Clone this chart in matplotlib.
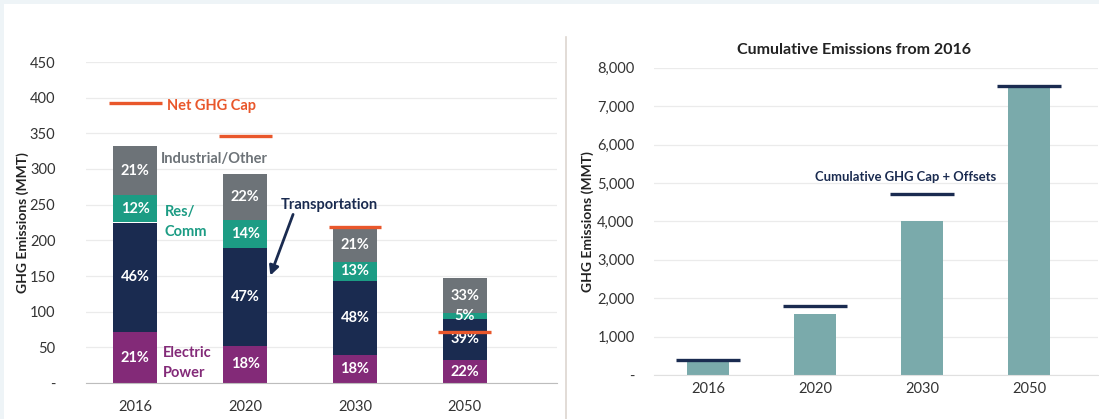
import matplotlib.pyplot as plt
import matplotlib.patches as patches
from matplotlib.ticker import FuncFormatter

plt.rcParams['font.family'] = ['Lato', 'DejaVu Sans']

years = ['2016', '2020', '2030', '2050']

# annual emissions by sector (MMT)
electric = [71, 52, 39, 32]
transport = [154, 137, 104, 58]
res_comm = [38, 40, 27, 8]
industrial = [69, 64, 47, 49]

electric_pct = ['21%', '18%', '18%', '22%']
transport_pct = ['46%', '47%', '48%', '39%']
res_comm_pct = ['12%', '14%', '13%', '5%']
industrial_pct = ['21%', '22%', '21%', '33%']

net_cap = [393, 346, 218, 71]

# cumulative emissions from 2016
cumulative = [350, 1590, 4020, 7530]
cum_cap = [395, 1805, 4715, 7535]

c_elec = '#832a78'
c_trans = '#1a2b50'
c_res = '#1c9c84'
c_ind = '#6d7378'
c_cap = '#e9572b'
c_cum = '#7aaaab'
c_grid = '#ebebeb'
c_tick = '#333333'

fig = plt.figure(figsize=(10.99, 4.19), dpi=100)
fig.patch.set_facecolor('white')
# light frame strips on the top and left
fig.add_artist(patches.Rectangle((0, 1 - 4 / 419), 1, 4 / 419, transform=fig.transFigure,
                                 facecolor='#eef4f7', edgecolor='none', zorder=-5))
fig.add_artist(patches.Rectangle((0, 0), 4 / 1099, 1, transform=fig.transFigure,
                                 facecolor='#eef4f7', edgecolor='none', zorder=-5))
fig.add_artist(plt.Line2D([566 / 1099, 566 / 1099], [0, 1 - 37 / 419], transform=fig.transFigure,
                          color='#ddd6cf', lw=1.2))

x = list(range(len(years)))

# ---- left: annual stacked
ax1 = fig.add_axes([86 / 1099, 36 / 419, 471 / 1099, 321 / 419])
ax1.set_facecolor('none')
stacks = [(electric, electric_pct, c_elec), (transport, transport_pct, c_trans),
          (res_comm, res_comm_pct, c_res), (industrial, industrial_pct, c_ind)]
bottom = [0] * len(years)
for vals, pcts, col in stacks:
    ax1.bar(x, vals, 0.4, bottom=bottom, color=col, zorder=2)
    for i in x:
        ax1.text(i, bottom[i] + vals[i] / 2, pcts[i], ha='center', va='center',
                 color='white', fontsize=10.5, fontweight='bold', zorder=3)
    bottom = [b + v for b, v in zip(bottom, vals)]

for i in x:
    ax1.plot([i - 0.24, i + 0.24], [net_cap[i], net_cap[i]], color=c_cap, lw=2.4, zorder=4,
             solid_capstyle='butt')

ax1.text(0.29, 388, 'Net GHG Cap', color=c_cap, fontsize=10.5, fontweight='bold', va='center')
ax1.text(0.235, 314, 'Industrial/Other', color=c_ind, fontsize=10.5, fontweight='bold', va='center')
ax1.text(0.265, 226, 'Res/\nComm', color=c_res, fontsize=10.5, fontweight='bold', va='center',
         linespacing=1.5)
ax1.text(0.25, 28, 'Electric\nPower', color=c_elec, fontsize=10.5, fontweight='bold', va='center',
         linespacing=1.5)
ax1.text(1.32, 250, 'Transportation', color=c_trans, fontsize=10.5, fontweight='bold', va='center')
ax1.annotate('', xy=(1.22, 147), xytext=(1.445, 240),
             arrowprops=dict(arrowstyle='-|>', color=c_trans, lw=2, mutation_scale=14))

ax1.set_xlim(-0.45, 3.84)
ax1.set_ylim(0, 450)
ax1.set_yticks(range(0, 451, 50))
ax1.yaxis.set_major_formatter(FuncFormatter(lambda v, p: '-' if v == 0 else f'{v:.0f}'))
ax1.set_xticks(x)
ax1.set_xticklabels(years)
ax1.tick_params(axis='x', length=0, pad=12, labelsize=10.5, labelcolor=c_tick)
ax1.tick_params(axis='y', length=0, pad=22, labelsize=10.5, labelcolor=c_tick)
ax1.grid(axis='y', color=c_grid, lw=0.9, zorder=0)
ax1.set_axisbelow(True)
for s in ['top', 'right', 'left']:
    ax1.spines[s].set_visible(False)
ax1.spines['bottom'].set_color('#bdbdbd')
ax1.set_ylabel('GHG Emissions (MMT)', fontsize=10, fontweight='bold', color='#222222')
ax1.yaxis.set_label_coords(-0.122, 0.5)

# ---- right: cumulative
ax2 = fig.add_axes([654 / 1099, 44 / 419, 444 / 1099, 307.3 / 419])
ax2.set_facecolor('none')
ax2.bar(x, cumulative, 0.4, color=c_cum, zorder=2)
for i in x:
    ax2.plot([i - 0.3, i + 0.3], [cum_cap[i], cum_cap[i]], color=c_trans, lw=2.4, zorder=4,
             solid_capstyle='butt')
ax2.text(1.0, 5150, 'Cumulative GHG Cap + Offsets', color=c_trans, fontsize=9.4,
         fontweight='bold', va='center')
ax2.set_title('Cumulative Emissions from 2016', fontsize=11.5, fontweight='bold',
              color='#222222', pad=10, x=0.45)

ax2.set_xlim(-0.505, 3.645)
ax2.set_ylim(0, 8000)
ax2.set_yticks(range(0, 8001, 1000))
ax2.yaxis.set_major_formatter(FuncFormatter(lambda v, p: '-' if v == 0 else f'{v:,.0f}'))
ax2.set_xticks(x)
ax2.set_xticklabels(years)
ax2.tick_params(axis='x', length=0, pad=5, labelsize=10.5, labelcolor=c_tick)
ax2.tick_params(axis='y', length=0, pad=14, labelsize=10.5, labelcolor=c_tick)
ax2.grid(axis='y', color=c_grid, lw=0.9, zorder=0)
ax2.set_axisbelow(True)
for s in ['top', 'right', 'left']:
    ax2.spines[s].set_visible(False)
ax2.spines['bottom'].set_color('#e0e0e0')
ax2.set_ylabel('GHG Emissions (MMT)', fontsize=10, fontweight='bold', color='#222222')
ax2.yaxis.set_label_coords(-0.135, 0.5)

fig.savefig('out.png', dpi=100, facecolor=fig.get_facecolor())
